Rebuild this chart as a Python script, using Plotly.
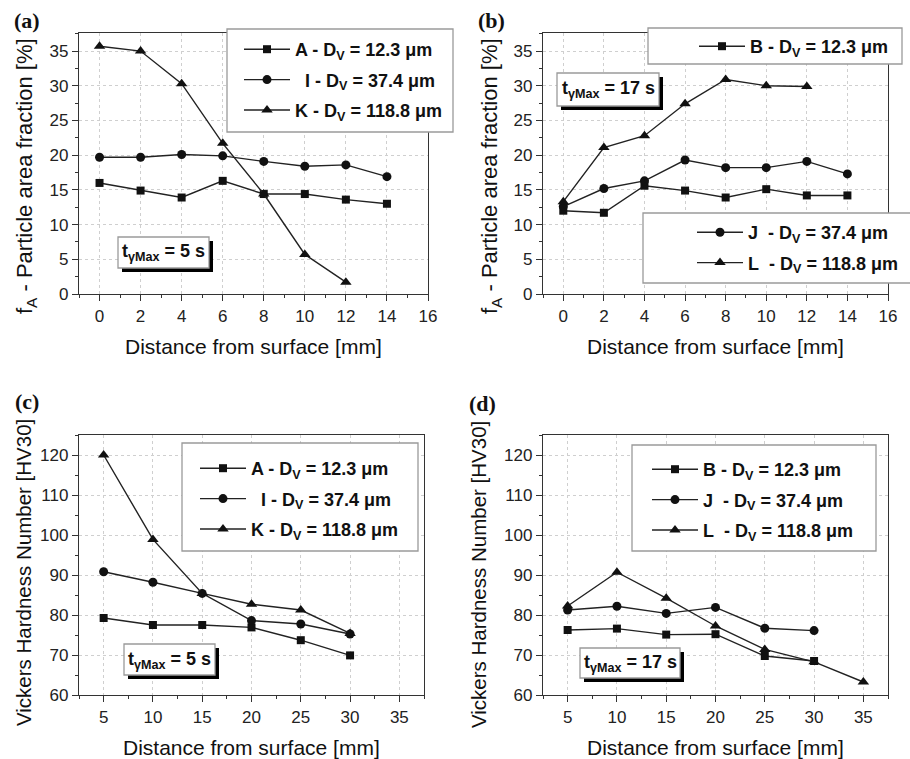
import plotly.graph_objects as go

W, H = 910, 759

# ---------------- data ----------------
x_fa = [0, 2, 4, 6, 8, 10, 12, 14]
x_fa_short = [0, 2, 4, 6, 8, 10, 12]
fa_A = [16.0, 14.9, 13.9, 16.3, 14.4, 14.4, 13.6, 13.0]
fa_I = [19.7, 19.7, 20.1, 19.9, 19.1, 18.4, 18.6, 16.9]
fa_K = [35.7, 35.0, 30.3, 21.7, 14.4, 5.7, 1.7]
fa_B = [12.0, 11.7, 15.6, 14.9, 13.9, 15.1, 14.2, 14.2]
fa_J = [12.6, 15.2, 16.3, 19.3, 18.2, 18.2, 19.1, 17.3]
fa_L = [13.3, 21.1, 22.8, 27.4, 30.9, 30.0, 29.9]

x_hv = [5, 10, 15, 20, 25, 30]
x_hv_long = [5, 10, 15, 20, 25, 30, 35]
hv_A = [79.25, 77.5, 77.5, 76.9, 73.7, 69.9]
hv_I = [90.8, 88.2, 85.4, 78.6, 77.75, 75.25]
hv_K = [120.0, 98.9, 85.4, 82.7, 81.25, 75.4]
hv_B = [76.25, 76.6, 75.1, 75.2, 69.75, 68.5]
hv_J = [81.25, 82.2, 80.4, 81.9, 76.7, 76.1]
hv_L = [82.25, 90.7, 84.2, 77.25, 71.4, 68.3, 63.25]

NB = "\u00a0"
lab_A = "<b>A - D<sub>V</sub> = 12.3 μm</b>"
lab_I = f"<b>{NB}{NB}I - D<sub>V</sub> = 37.4 μm</b>"
lab_K = "<b>K - D<sub>V</sub> = 118.8 μm</b>"
lab_B = "<b>B - D<sub>V</sub> = 12.3 μm</b>"
lab_J = f"<b>J{NB}{NB}- D<sub>V</sub> = 37.4 μm</b>"
lab_L = f"<b>L{NB}{NB}- D<sub>V</sub> = 118.8 μm</b>"

FONT = "Liberation Sans, Arial, sans-serif"
SERIF = "Liberation Serif, Times New Roman, serif"
LINE_C = "#222"
MK = dict(square=dict(symbol="square", size=8),
          circle=dict(symbol="circle", size=9),
          tri=dict(symbol="triangle-up", size=10))


def px(x):
    return x / W


def py(y):
    return 1 - y / H


fig = go.Figure()


def add(x, y, name, mk, xa, ya, leg, grp):
    fig.add_trace(go.Scatter(
        x=x, y=y, name=name, mode="lines+markers",
        line=dict(color=LINE_C, width=1.4),
        marker=dict(color="#111", **MK[mk]),
        xaxis=xa, yaxis=ya, legend=leg, legendgroup=grp,
    ))


# panel (a)
add(x_fa, fa_A, lab_A, "square", "x", "y", "legend", "a1")
add(x_fa, fa_I, lab_I, "circle", "x", "y", "legend", "a2")
add(x_fa_short, fa_K, lab_K, "tri", "x", "y", "legend", "a3")
# panel (b)
add(x_fa, fa_B, lab_B, "square", "x2", "y2", "legend2", "b1")
add(x_fa, fa_J, lab_J, "circle", "x2", "y2", "legend3", "b2")
add(x_fa_short, fa_L, lab_L, "tri", "x2", "y2", "legend3", "b3")
# panel (c)
add(x_hv, hv_A, lab_A, "square", "x3", "y3", "legend4", "c1")
add(x_hv, hv_I, lab_I, "circle", "x3", "y3", "legend4", "c2")
add(x_hv, hv_K, lab_K, "tri", "x3", "y3", "legend4", "c3")
# panel (d)
add(x_hv, hv_B, lab_B, "square", "x4", "y4", "legend5", "d1")
add(x_hv, hv_J, lab_J, "circle", "x4", "y4", "legend5", "d2")
add(x_hv_long, hv_L, lab_L, "tri", "x4", "y4", "legend5", "d3")

# panel geometry in pixels (left, right, top, bottom)
P = {
    "a": (79, 428, 33, 294),
    "b": (543, 888, 33, 294),
    "c": (79, 424, 435, 695),
    "d": (543, 888, 435, 695),
}

axis_common = dict(
    showline=True, linecolor="#333", linewidth=1.3, mirror=True,
    ticks="outside", ticklen=6, tickwidth=1.2, tickcolor="#333",
    showgrid=True, gridcolor="#cfcfcf", griddash="dot", gridwidth=1,
    zeroline=False, automargin=False,
    tickfont=dict(family=FONT, size=17, color="#222"),
    minor=dict(ticks="outside", ticklen=3, tickcolor="#333", showgrid=False),
)


def xa(p, rng, dtick, minor, anchor):
    l, r, t, b = P[p]
    d = dict(axis_common)
    d.update(domain=[px(l), px(r)], range=rng, dtick=dtick, tick0=0,
             anchor=anchor)
    d["minor"] = dict(axis_common["minor"], dtick=minor)
    return d


def ya(p, rng, dtick, minor, anchor):
    l, r, t, b = P[p]
    d = dict(axis_common)
    d.update(domain=[py(b), py(t)], range=rng, dtick=dtick, tick0=0,
             anchor=anchor)
    d["minor"] = dict(axis_common["minor"], dtick=minor)
    return d


legend_common = dict(
    bgcolor="rgba(0,0,0,0)", borderwidth=0,
    font=dict(family=FONT, size=18, color="#111"),
    itemwidth=46, xanchor="left", yanchor="top", tracegroupgap=4,
)


def leg(x0, ytop):
    d = dict(legend_common)
    d.update(x=px(x0), y=py(ytop))
    return d


shapes = []


def box(x0, y0, x1, y1, shadow=False):
    if shadow:
        shapes.append(dict(type="rect", xref="paper", yref="paper",
                           x0=px(x0 + 4), x1=px(x1 + 4), y0=py(y0 + 4), y1=py(y1 + 4),
                           fillcolor="#000", line=dict(width=0), layer="above"))
    shapes.append(dict(type="rect", xref="paper", yref="paper",
                       x0=px(x0), x1=px(x1), y0=py(y0), y1=py(y1),
                       fillcolor="white", line=dict(color="#9a9a9a", width=1.3),
                       layer="above"))


# legend boxes
box(227, 29, 453, 132)
box(648, 28, 902, 64)
box(643, 213, 915, 283)
box(182, 443, 418, 551)
box(632, 445, 876, 551)
# t boxes
box(118, 237, 209, 268, shadow=True)
box(557, 73, 659, 106, shadow=True)
box(124, 644, 215, 675, shadow=True)
box(580, 648, 680, 678, shadow=True)

annotations = []


def ann(text, x, y, size, family=FONT, angle=0):
    annotations.append(dict(
        text=text, x=px(x), y=py(y), xref="paper", yref="paper",
        xanchor="center", yanchor="middle", showarrow=False, textangle=angle,
        font=dict(family=family, size=size, color="#111"),
    ))


# panel labels
ann("<b>(a)</b>", 27, 21, 22, SERIF)
ann("<b>(b)</b>", 492, 21, 22, SERIF)
ann("<b>(c)</b>", 27, 401, 22, SERIF)
ann("<b>(d)</b>", 482, 403, 22, SERIF)

# t boxes text
ann("<b>t<sub>γMax</sub> = 5 s</b>", 163.5, 253, 18)
ann("<b>t<sub>γMax</sub> = 17 s</b>", 608, 90, 18)
ann("<b>t<sub>γMax</sub> = 5 s</b>", 169.5, 660, 18)
ann("<b>t<sub>γMax</sub> = 17 s</b>", 630, 663, 18)

# axis titles
xt = "Distance from surface [mm]"
ann(xt, 253.5, 347, 21)
ann(xt, 715.5, 347, 21)
ann(xt, 251.5, 747, 21)
ann(xt, 715.5, 747, 21)
yt1 = "f<sub>A</sub> - Particle area fraction [%]"
yt2 = "Vickers Hardness Number [HV30]"
ann(yt1, 26, 176, 22, angle=-90)
ann(yt1, 491, 176, 22, angle=-90)
ann(yt2, 23, 573, 20.5, angle=-90)
ann(yt2, 478, 575, 20.5, angle=-90)

fig.update_layout(
    width=W, height=H,
    margin=dict(l=0, r=0, t=0, b=0),
    paper_bgcolor="white", plot_bgcolor="white",
    font=dict(family=FONT, color="#111"),
    showlegend=True,
    xaxis=xa("a", [-1, 16], 2, 1, "y"),
    yaxis=ya("a", [0, 37.6], 5, 2.5, "x"),
    xaxis2=xa("b", [-1, 16], 2, 1, "y2"),
    yaxis2=ya("b", [0, 37.6], 5, 2.5, "x2"),
    xaxis3=xa("c", [2.5, 37.5], 5, 2.5, "y3"),
    yaxis3=ya("c", [60, 125], 10, 5, "x3"),
    xaxis4=xa("d", [2.5, 37.5], 5, 2.5, "y4"),
    yaxis4=ya("d", [60, 125], 10, 5, "x4"),
    legend=leg(239, 31),
    legend2=leg(694, 28),
    legend3=leg(692, 214),
    legend4=leg(195, 450),
    legend5=leg(647, 451),
    shapes=shapes,
    annotations=annotations,
)

fig.write_html("out.html")
